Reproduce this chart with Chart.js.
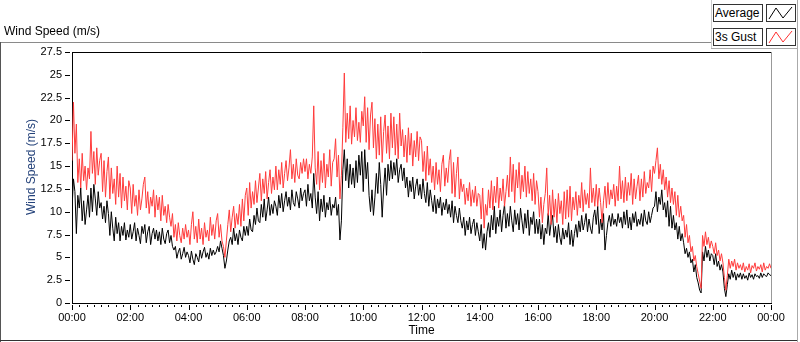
<!DOCTYPE html>
<html>
<head>
<meta charset="utf-8">
<script src="https://cdn.jsdelivr.net/npm/chart.js@4"></script>
<style>
  html, body { margin: 0; padding: 0; background: #fff; }
  #wrap { position: relative; width: 800px; height: 342px; overflow: hidden; font-family: "Liberation Sans", Arial, sans-serif; }
  #chart { position: absolute; left: 0; top: 0; }
  .frame { position: absolute; background: #8a8a8a; }
  #title { position: absolute; left: 4px; top: 24px; font-size: 12px; color: #000; }
  #ytitle { position: absolute; left: -19px; top: 160px; width: 100px; text-align: center; font-size: 12px; color: #24427a; transform: rotate(-90deg); }
  .lg-text { position: absolute; left: 713px; width: 47px; height: 16px; border: 1px solid #333; background: #fff; font-size: 12px; line-height: 16px; padding-left: 1px; }
  .lg-icon { position: absolute; left: 766px; width: 28px; height: 16px; border: 1px solid #333; background: #fff; }
</style>
</head>
<body>
<div id="wrap">
  <canvas id="chart" width="800" height="342"></canvas>
  <div class="frame" style="left:0;top:42px;width:712px;height:1px;"></div>
  <div class="frame" style="left:0;top:42px;width:1px;height:300px;background:#555;"></div>
  <div class="frame" style="left:0;top:340px;width:798px;height:1px;background:#333;"></div>
  <div class="frame" style="left:797px;top:0;width:1px;height:342px;background:#aaa;"></div>
  <div class="frame" style="left:711px;top:0;width:1px;height:48px;background:#ccc;"></div>
  <div class="frame" style="left:711px;top:48px;width:87px;height:1px;background:#aaa;"></div>
  <div id="title">Wind Speed (m/s)</div>
  <div id="ytitle">Wind Speed (m/s)</div>
  <div class="lg-text" style="top:4px;">Average</div>
  <div class="lg-icon" style="top:4px;"><svg width="28" height="16"><polyline points="2,14 9,3 16,13 25,2" fill="none" stroke="#000" stroke-width="1"/></svg></div>
  <div class="lg-text" style="top:28px;">3s Gust</div>
  <div class="lg-icon" style="top:28px;"><svg width="28" height="16"><polyline points="2,14 9,3 16,13 25,2" fill="none" stroke="#ff3030" stroke-width="1"/></svg></div>
</div>
<script>
// 3-minute samples, one row per hour, 00:00 .. 24:00
const avgSpeed = [
  10.3, 13.6, 12.2, 7.6, 11.8, 10.4, 12.6, 9.0, 11.2, 8.6, 10.2, 11.8, 9.4, 12.6, 10.0, 13.0, 11.4, 9.6, 12.2, 10.4,
  11.0, 9.2, 10.6, 8.8, 11.2, 9.8, 7.4, 10.0, 8.2, 6.8, 9.4, 7.6, 8.8, 6.8, 8.4, 7.4, 8.8, 6.9, 8.0, 7.2,
  8.6, 7.0, 7.8, 8.8, 6.8, 8.2, 7.4, 6.5, 8.4, 7.6, 8.6, 6.6, 7.8, 8.4, 6.4, 7.6, 8.2, 7.0, 8.0, 6.8,
  7.8, 6.4, 8.2, 7.0, 6.5, 7.6, 8.0, 6.6, 7.4, 6.2, 5.8, 6.2, 4.9, 5.6, 6.0, 4.8, 5.4, 6.1, 5.0, 5.6,
  5.2, 4.4, 5.7, 4.8, 4.2, 5.4, 5.0, 4.5, 5.8, 4.9, 5.6, 6.1, 5.0, 5.5, 4.8, 6.0, 5.2, 5.8, 5.3, 5.6,
  6.2, 5.6, 6.8, 6.0, 5.2, 3.8, 4.6, 5.8, 6.8, 7.2, 6.4, 8.2, 6.8, 7.6, 6.4, 8.0, 7.2, 6.8, 8.4, 7.4,
  8.4, 7.4, 9.2, 8.0, 7.8, 9.6, 8.6, 10.4, 9.0, 8.8, 10.8, 9.4, 11.4, 9.0, 10.2, 11.6, 9.6, 10.8, 9.8, 11.2,
  10.6, 9.6, 11.8, 10.4, 12.0, 10.0, 11.2, 12.2, 10.6, 11.6, 10.2, 12.4, 11.0, 10.6, 12.2, 11.4, 10.4, 12.6, 11.2, 12.0,
  12.4, 10.6, 13.0, 11.2, 12.0, 10.4, 14.2, 11.6, 9.8, 12.2, 9.0, 11.4, 10.0, 11.8, 9.4, 11.0, 10.2, 11.6, 9.6, 10.8,
  10.4, 11.6, 9.6, 10.8, 6.9, 9.0, 14.6, 16.8, 13.4, 15.8, 12.6, 15.2, 13.0, 14.8, 12.6, 15.6, 13.2, 16.2, 14.0, 16.6,
  12.2, 16.8, 13.6, 15.4, 11.8, 10.0, 12.4, 9.6, 11.6, 14.2, 12.0, 15.4, 13.0, 9.4, 12.6, 14.8, 11.8, 15.2, 13.4, 15.6,
  13.6, 15.4, 14.0, 15.8, 13.2, 14.6, 15.2, 13.4, 14.8, 12.6, 13.8, 11.6, 13.4, 12.2, 13.8, 11.4, 12.8, 13.6, 11.8, 13.0,
  11.4, 13.6, 12.0, 11.0, 13.2, 10.6, 12.4, 11.2, 10.0, 11.8, 9.8, 11.4, 10.4, 11.6, 9.6, 11.0, 10.2, 11.4, 9.8, 10.8,
  9.4, 11.2, 8.8, 10.6, 9.6, 8.8, 10.4, 9.0, 8.2, 9.4, 7.4, 9.0, 8.0, 9.4, 7.6, 8.6, 9.2, 7.4, 8.8, 7.8,
  6.8, 8.6, 6.0, 7.6, 5.8, 7.8, 8.8, 7.2, 9.6, 8.0, 10.6, 7.6, 9.4, 8.4, 10.2, 7.8, 9.6, 10.8, 8.2, 9.8,
  8.4, 10.6, 9.0, 7.8, 10.2, 8.6, 9.8, 8.0, 10.4, 9.0, 7.6, 9.8, 8.2, 10.2, 7.4, 9.4, 8.6, 10.0, 7.6, 9.2,
  7.6, 9.2, 7.0, 8.6, 6.4, 8.2, 7.6, 9.8, 7.4, 8.8, 9.6, 7.2, 8.4, 6.6, 8.6, 7.2, 6.4, 8.2, 7.0, 8.0,
  7.2, 8.8, 6.4, 8.0, 6.2, 7.6, 8.6, 7.2, 9.0, 7.8, 9.6, 8.0, 8.8, 9.8, 7.8, 9.2, 8.2, 7.6, 9.4, 10.2,
  8.6, 10.6, 7.6, 9.2, 8.0, 9.8, 5.8, 7.4, 8.8, 9.6, 8.4, 9.8, 8.6, 9.2, 8.4, 9.8, 8.8, 9.4, 8.2, 10.0,
  8.6, 10.2, 8.2, 9.4, 8.0, 9.8, 8.8, 10.0, 8.4, 9.2, 8.6, 9.8, 8.4, 10.2, 9.0, 8.6, 10.0, 8.8, 9.6, 10.4,
  10.6, 12.2, 10.0, 11.6, 10.8, 12.4, 10.2, 11.0, 9.4, 11.2, 8.4, 10.6, 8.2, 9.6, 8.0, 8.8, 7.0, 8.4, 6.8, 7.6,
  6.6, 5.4, 6.0, 5.0, 5.6, 4.4, 4.8, 3.4, 4.2, 2.8, 2.2, 1.4, 1.1, 5.6, 4.6, 6.2, 5.0, 5.8, 4.6, 5.4,
  5.2, 4.2, 5.4, 4.0, 4.6, 3.6, 4.2, 3.4, 1.6, 0.7, 2.0, 3.2, 2.6, 3.6, 2.8, 3.4, 2.5, 3.2, 2.8, 3.3,
  2.6, 3.2, 2.7, 3.0, 2.5, 3.3, 2.8, 3.1, 2.6, 3.2, 2.9, 3.0, 2.7, 3.3, 2.8, 3.2, 3.0, 2.9, 3.3, 3.1,
  3.0
];
const gustSpeed = [
  15.6, 22.0, 16.4, 19.6, 13.2, 15.8, 12.6, 16.4, 13.4, 15.0, 12.4, 14.8, 13.6, 18.8, 14.2, 16.6, 13.0, 17.0, 14.0, 15.6,
  16.4, 12.2, 15.6, 11.6, 14.4, 16.0, 11.4, 14.8, 12.0, 13.6, 10.8, 15.0, 11.6, 14.2, 10.4, 13.8, 11.2, 12.8, 10.2, 13.4,
  12.6, 9.8, 13.0, 10.6, 11.8, 9.6, 12.4, 10.2, 11.4, 13.0, 13.8, 10.4, 12.2, 9.8, 11.6, 10.6, 12.4, 9.4, 11.8, 10.2,
  11.6, 9.0, 11.8, 9.6, 10.6, 8.8, 10.8, 9.4, 8.4, 9.8, 7.2, 8.6, 6.8, 8.8, 7.4, 6.6, 8.2, 7.0, 8.6, 7.2,
  8.0, 6.4, 8.6, 10.0, 7.0, 8.4, 6.6, 9.2, 7.0, 8.2, 6.4, 8.8, 7.2, 8.0, 6.8, 9.4, 7.4, 8.6, 7.0, 9.0,
  9.8, 7.2, 8.6, 6.8, 6.2, 5.0, 6.8, 8.6, 10.2, 7.8, 9.4, 10.6, 8.2, 9.8, 8.6, 10.8, 8.4, 11.4, 9.0, 11.8,
  12.6, 9.6, 13.2, 10.4, 12.2, 10.8, 13.4, 11.0, 12.6, 14.2, 11.2, 13.6, 12.0, 14.4, 11.4, 13.2, 14.6, 12.0, 13.8, 12.4,
  15.0, 12.4, 14.6, 13.0, 15.4, 12.6, 14.2, 15.6, 13.4, 14.8, 16.8, 13.6, 15.2, 13.2, 15.8, 14.0, 13.6, 15.4, 14.2, 15.8,
  14.4, 15.8, 13.6, 15.2, 14.2, 16.0, 21.6, 14.8, 13.0, 16.6, 12.4, 15.6, 13.2, 16.4, 12.6, 15.2, 13.8, 16.8, 12.8, 15.4,
  15.8, 18.0, 13.8, 16.2, 11.4, 14.0, 19.2, 25.2, 17.6, 20.8, 18.0, 21.6, 17.4, 20.0, 18.2, 21.4, 17.8, 19.8, 17.6, 21.0,
  19.4, 22.6, 17.6, 21.4, 16.8, 20.6, 22.0, 17.0, 20.2, 15.8, 19.6, 16.2, 20.4, 15.4, 18.8, 20.6, 16.4, 19.4, 15.8, 20.8,
  17.0, 20.4, 16.2, 19.6, 15.8, 20.8, 17.2, 19.0, 16.0, 18.4, 15.4, 19.2, 16.2, 18.6, 15.0, 17.8, 16.0, 18.8, 15.6, 18.2,
  17.8, 14.4, 16.6, 13.4, 17.2, 14.0, 15.8, 13.2, 15.0, 12.4, 15.4, 13.0, 14.6, 12.2, 15.2, 16.2, 12.8, 14.8, 13.2, 15.6,
  16.8, 12.0, 15.4, 11.6, 14.2, 16.0, 11.4, 13.6, 12.2, 13.0, 10.8, 12.6, 11.2, 13.2, 10.6, 12.4, 11.0, 12.8, 10.6, 12.0,
  11.8, 9.2, 12.6, 8.2, 10.8, 9.6, 12.4, 10.4, 13.4, 10.2, 12.8, 11.0, 13.8, 10.4, 12.6, 11.2, 13.6, 10.6, 12.2, 14.0,
  11.6, 16.0, 12.2, 15.2, 11.0, 14.6, 12.6, 15.4, 11.4, 14.0, 12.2, 15.0, 11.6, 14.4, 12.0, 13.6, 11.2, 14.2, 10.8, 13.4,
  12.2, 9.4, 11.6, 8.8, 10.8, 12.0, 14.8, 9.6, 11.8, 8.6, 12.4, 9.4, 11.4, 8.8, 12.0, 9.8, 11.2, 8.6, 12.2, 9.2,
  12.4, 9.4, 12.8, 9.0, 11.6, 10.2, 12.2, 9.6, 11.8, 10.4, 13.2, 10.0, 12.4, 10.8, 12.0, 10.4, 14.8, 11.0, 12.6, 10.6,
  13.0, 10.6, 12.6, 11.0, 8.8, 11.2, 12.8, 10.4, 13.2, 10.8, 12.4, 11.4, 13.0, 10.6, 12.8, 11.2, 15.0, 11.4, 13.4, 11.0,
  13.8, 11.2, 13.2, 11.8, 14.2, 10.8, 13.6, 11.4, 12.8, 14.0, 11.2, 13.6, 11.6, 14.4, 12.0, 13.2, 12.6, 14.6, 12.2, 15.0,
  14.2, 15.6, 17.0, 13.6, 15.2, 13.0, 14.6, 12.4, 13.8, 11.6, 13.4, 11.0, 12.6, 10.8, 12.2, 9.6, 11.8, 9.4, 10.6, 9.0,
  9.6, 7.2, 8.6, 6.6, 7.4, 5.6, 6.2, 4.6, 5.2, 4.0, 3.2, 2.4, 1.6, 7.4, 6.2, 7.8, 6.4, 7.2, 6.0, 6.8,
  6.2, 5.4, 6.6, 5.2, 5.8, 4.6, 5.4, 4.4, 2.8, 1.4, 3.0, 4.8, 3.8, 4.6, 4.0, 4.8, 3.6, 4.4, 3.8, 4.2,
  3.6, 4.4, 3.4, 4.0, 3.6, 4.3, 3.3, 4.1, 3.8, 4.4, 3.5, 4.0, 3.7, 4.2, 3.4, 4.4, 3.6, 4.0, 3.8, 4.3,
  3.8
];
const sampleMinutes = avgSpeed.map((_, i) => i * 3);
const yTicks = [0, 2.5, 5, 7.5, 10, 12.5, 15, 17.5, 20, 22.5, 25, 27.5];

function hhmm(min) {
  const h = Math.floor(min / 60) % 24;
  const m = min % 60;
  return String(h).padStart(2, '0') + ':' + String(m).padStart(2, '0');
}

// short tick marks + top/right frame of the plot
const frameTicks = {
  id: 'frameTicks',
  afterDraw(chart) {
    const ctx = chart.ctx, a = chart.chartArea;
    const xs = chart.scales.x, ys = chart.scales.y;
    ctx.save();
    ctx.lineWidth = 1;
    ctx.strokeStyle = '#000';
    ctx.beginPath();
    for (let t = 0; t <= 1440; t += 15) {
      const px = Math.round(xs.getPixelForValue(t)) + 0.5;
      ctx.moveTo(px, a.bottom + 2);
      ctx.lineTo(px, a.bottom + (t % 120 === 0 ? 7 : 4));
    }
    yTicks.forEach(v => {
      const py = Math.round(ys.getPixelForValue(v)) + 0.5;
      ctx.moveTo(a.left - 7, py);
      ctx.lineTo(a.left - 2, py);
    });
    ctx.moveTo(a.left, Math.round(a.top) + 0.5);
    ctx.lineTo(a.right, Math.round(a.top) + 0.5);
    ctx.stroke();
    ctx.strokeStyle = '#999';
    ctx.beginPath();
    ctx.moveTo(Math.round(a.right) + 0.5, a.top);
    ctx.lineTo(Math.round(a.right) + 0.5, a.bottom);
    ctx.stroke();
    ctx.restore();
  }
};

new Chart(document.getElementById('chart'), {
  type: 'line',
  data: {
    datasets: [
      {
        label: '3s Gust',
        data: sampleMinutes.map((t, i) => ({x: t, y: gustSpeed[i]})),
        borderColor: '#ff3b3b',
        borderWidth: 1,
        pointRadius: 0,
        tension: 0
      },
      {
        label: 'Average',
        data: sampleMinutes.map((t, i) => ({x: t, y: avgSpeed[i]})),
        borderColor: '#000',
        borderWidth: 1,
        pointRadius: 0,
        tension: 0
      }
    ]
  },
  options: {
    responsive: false,
    animation: false,
    layout: { padding: { left: 0, right: 29, top: 52, bottom: 0 } },
    plugins: { legend: { display: false }, tooltip: { enabled: false } },
    scales: {
      x: {
        type: 'linear',
        min: 0,
        max: 1440,
        afterFit: s => { s.height = 39; },
        border: { display: true, color: '#000', width: 1 },
        grid: { display: true, drawOnChartArea: false, drawTicks: false },
        ticks: {
          stepSize: 15,
          maxTicksLimit: 200,
          autoSkip: false,
          maxRotation: 0,
          padding: 8,
          color: '#000',
          font: { family: 'Liberation Sans', size: 11 },
          callback: v => (v % 120 === 0 ? hhmm(v) : '')
        },
        title: {
          display: true,
          text: 'Time',
          color: '#000',
          font: { family: 'Liberation Sans', size: 12 },
          padding: { top: 0, bottom: 4 }
        }
      },
      y: {
        min: 0,
        max: 27.5,
        afterFit: s => { s.width = 72; },
        border: { display: true, color: '#000', width: 1 },
        grid: { display: true, drawOnChartArea: false, drawTicks: false },
        ticks: {
          stepSize: 2.5,
          padding: 10,
          color: '#000',
          font: { family: 'Liberation Sans', size: 11 },
          callback: v => String(v)
        }
      }
    }
  },
  plugins: [frameTicks]
});
</script>
</body>
</html>
